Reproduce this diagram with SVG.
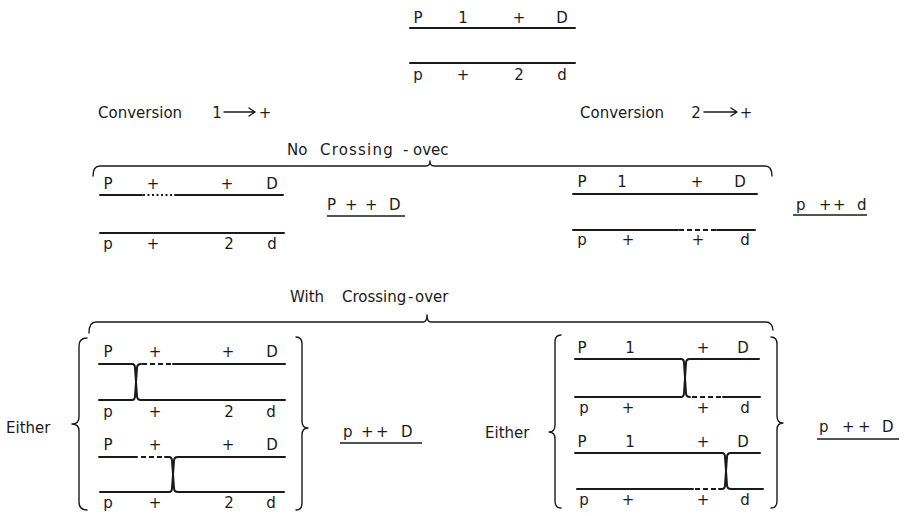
<svg xmlns="http://www.w3.org/2000/svg" width="904" height="516" viewBox="0 0 904 516">
<style>
text{font-family:"DejaVu Sans","Liberation Sans",sans-serif;font-size:15px;fill:#1a1a1a}
.l{text-anchor:middle}
.c{fill:none;stroke:#1a1a1a;stroke-width:2;stroke-linecap:round;stroke-linejoin:round}
.d{fill:none;stroke:#1a1a1a;stroke-width:2;stroke-dasharray:5 3}
.o{fill:none;stroke:#1a1a1a;stroke-width:2.2;stroke-dasharray:2 2.5}
.b{fill:none;stroke:#1a1a1a;stroke-width:1.4;stroke-linecap:round;stroke-linejoin:round}
.u{stroke:#1a1a1a;stroke-width:1.6}
.w{letter-spacing:1.2px}
</style>
<rect width="904" height="516" fill="#fff"/>

<g id="parent">
<text class="l" x="418" y="23">P</text><text class="l" x="463" y="23">1</text><text class="l" x="519" y="23">+</text><text class="l" x="562" y="23">D</text>
<path class="c" d="M410,28 H575 M410,63 H575"/>
<text class="l" x="418" y="80">p</text><text class="l" x="463" y="80">+</text><text class="l" x="519" y="80">2</text><text class="l" x="562" y="80">d</text>
</g>

<g id="conv1">
<text x="98" y="118">Conversion</text>
<text class="l" x="217" y="118">1</text>
<path class="b" d="M224,112 H255 M249,108 L255,112 L249,116"/>
<text class="l" x="265" y="118">+</text>
</g>
<g id="conv2">
<text x="580" y="118">Conversion</text>
<text class="l" x="696" y="118">2</text>
<path class="b" d="M704,112 H737 M731,108 L737,112 L731,116"/>
<text class="l" x="746" y="118">+</text>
</g>

<g id="nocross-label">
<text x="287" y="155">No</text><text class="w" x="320" y="155">Crossing</text><text x="403" y="155">-</text><text x="413" y="155">ovec</text>
</g>

<g id="nocross-left">
<text class="l" x="108" y="189">P</text><text class="l" x="153" y="189">+</text><text class="l" x="227" y="189">+</text><text class="l" x="272" y="189">D</text>
<path class="c" d="M100,195 H142 M175,195 H283 M100,233 H284"/>
<path class="o" d="M143,195 H174"/>
<text class="l" x="108" y="249">p</text><text class="l" x="153" y="249">+</text><text class="l" x="229" y="249">2</text><text class="l" x="272" y="249">d</text>
</g>
<g id="result1">
<text x="327" y="210">P</text><text x="345" y="210">+</text><text x="365" y="210">+</text><text x="389" y="210">D</text>
<line class="u" x1="327" y1="216" x2="405" y2="216"/>
</g>

<g id="nocross-right">
<text class="l" x="582" y="187">P</text><text class="l" x="622" y="187">1</text><text class="l" x="697" y="187">+</text><text class="l" x="740" y="187">D</text>
<path class="c" d="M573,194 H757 M573,230 H678 M717,230 H755"/>
<path class="d" d="M679,230 H716"/>
<text class="l" x="582" y="245">p</text><text class="l" x="628" y="245">+</text><text class="l" x="698" y="245">+</text><text class="l" x="745" y="245">d</text>
</g>
<g id="result2">
<text x="796" y="210">p</text><text x="819" y="210">+</text><text x="833" y="210">+</text><text x="857" y="210">d</text>
<line class="u" x1="793" y1="215" x2="867" y2="215"/>
</g>

<g id="withcross-label">
<text x="290" y="302">With</text><text x="342" y="302">Crossing</text><text x="408" y="302">-</text><text x="415" y="302">over</text>
</g>

<g id="either-left">
<text x="6" y="433">Either</text>
</g>
<g id="cross-left-1">
<text class="l" x="108" y="357">P</text><text class="l" x="155" y="357">+</text><text class="l" x="228" y="357">+</text><text class="l" x="272" y="357">D</text>
<path class="c" d="M99,364 H132 Q135,364 135,368 L137,396 Q137,400 141,400 H285"/>
<path class="c" d="M99,400 H132 Q135,400 135,396 L137,368 Q137,364 141,364"/>
<path class="d" d="M142,364 H171"/>
<path class="c" d="M173,364 H285"/>
<text class="l" x="108" y="417">p</text><text class="l" x="155" y="417">+</text><text class="l" x="229" y="417">2</text><text class="l" x="271" y="417">d</text>
</g>
<g id="cross-left-2">
<text class="l" x="108" y="450">P</text><text class="l" x="155" y="450">+</text><text class="l" x="228" y="450">+</text><text class="l" x="272" y="450">D</text>
<path class="c" d="M99,457 H137"/>
<path class="d" d="M141,457 H164"/>
<path class="c" d="M165,457 H169 Q172,457 172,461 L174,488 Q174,492 178,492 H284"/>
<path class="c" d="M100,492 H169 Q172,492 172,488 L174,461 Q174,457 178,457 H285"/>
<text class="l" x="108" y="508">p</text><text class="l" x="155" y="508">+</text><text class="l" x="229" y="508">2</text><text class="l" x="271" y="508">d</text>
</g>
<g id="result3">
<text x="343" y="437">p</text><text x="361" y="437">+</text><text x="376" y="437">+</text><text x="401" y="437">D</text>
<line class="u" x1="340" y1="443" x2="422" y2="443"/>
</g>

<g id="either-right">
<text x="485" y="438">Either</text>
</g>
<g id="cross-right-1">
<text class="l" x="582" y="353">P</text><text class="l" x="630" y="353">1</text><text class="l" x="703" y="353">+</text><text class="l" x="743" y="353">D</text>
<path class="c" d="M575,359 H681 Q684,359 684,363 L686,393 Q686,397 690,397"/>
<path class="c" d="M575,397 H681 Q684,397 684,393 L686,363 Q686,359 690,359 H759"/>
<path class="d" d="M692,397 H721"/>
<path class="c" d="M723,397 H760"/>
<text class="l" x="584" y="413">p</text><text class="l" x="628" y="413">+</text><text class="l" x="703" y="413">+</text><text class="l" x="745" y="413">d</text>
</g>
<g id="cross-right-2">
<text class="l" x="582" y="447">P</text><text class="l" x="630" y="447">1</text><text class="l" x="703" y="447">+</text><text class="l" x="743" y="447">D</text>
<path class="c" d="M575,453 H722 Q725,453 725,457 L727,485 Q727,489 731,489 H763"/>
<path class="c" d="M577,489 H693"/>
<path class="d" d="M695,489 H718"/>
<path class="c" d="M719,489 H722 Q725,489 725,485 L727,457 Q727,453 731,453 H760"/>
<text class="l" x="584" y="505">p</text><text class="l" x="628" y="505">+</text><text class="l" x="703" y="505">+</text><text class="l" x="745" y="505">d</text>
</g>
<g id="result4">
<text x="819" y="432">p</text><text x="842" y="432">+</text><text x="858" y="432">+</text><text x="882" y="432">D</text>
<line class="u" x1="817" y1="439" x2="899" y2="439"/>
</g>

<g id="connectors">
<path class="b" d="M93,176 Q93,166 100,166 H426 Q430,166 430,161 Q430,166 434,166 H765 Q772,166 772,176"/>
<path class="b" d="M89,333 Q89,322 96,322 H423 Q427,322 427,315 Q427,322 431,322 H766 Q772,322 773,330"/>
<path class="b" d="M87,338 Q79,338 79,346 V417 Q79,424 72,424 Q79,424 79,431 V502 Q79,510 87,510"/>
<path class="b" d="M296,337 Q302,337 302,344 V421 Q302,428 308,428 Q302,428 302,435 V503 Q302,510 296,510"/>
<path class="b" d="M561,335 Q555,335 555,342 V425 Q555,432 549,432 Q555,432 555,439 V501 Q555,508 561,508"/>
<path class="b" d="M771,337 Q777,337 777,344 V416 Q777,423 783,423 Q777,423 777,430 V501 Q777,508 771,508"/>
</g>
</svg>
